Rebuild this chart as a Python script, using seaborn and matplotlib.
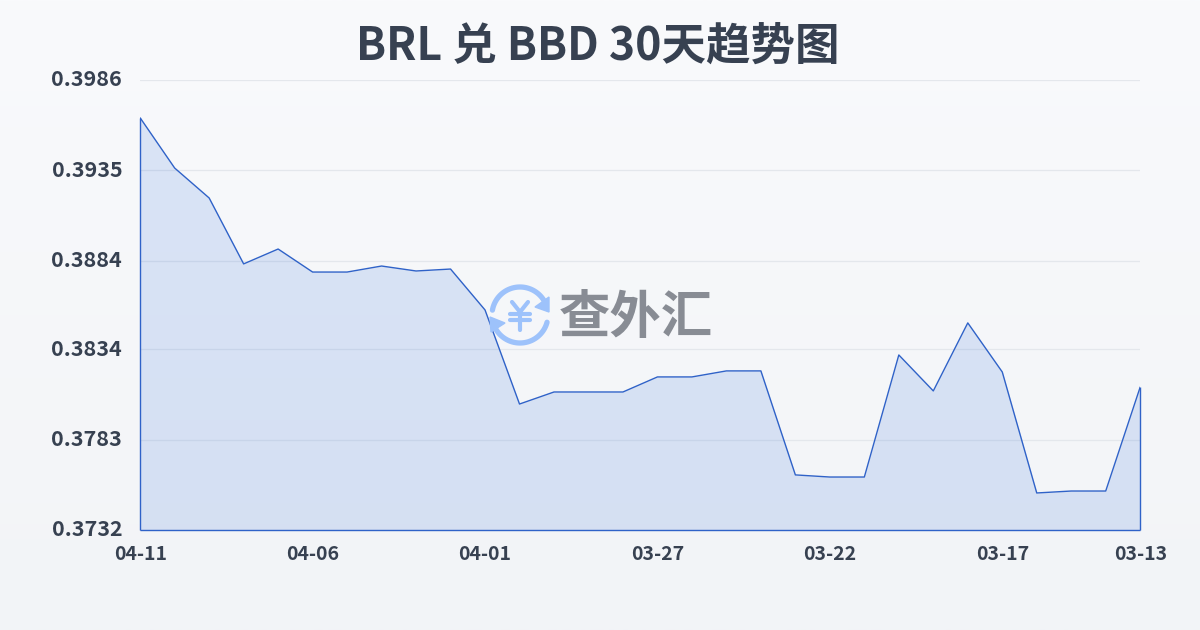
import numpy as np
import pandas as pd
import matplotlib
matplotlib.use("Agg")
import matplotlib.pyplot as plt
from matplotlib.colors import LinearSegmentedColormap
from matplotlib.patches import Polygon
from matplotlib.transforms import ScaledTranslation
import seaborn as sns

TITLE = "BRL 兑 BBD 30天趋势图"
WATERMARK = "查外汇"
rates = [0.39646, 0.39363, 0.39194, 0.38822, 0.38906, 0.38776, 0.38776, 0.38810,
         0.38782, 0.38793, 0.38562, 0.38031, 0.38099, 0.38099, 0.38099, 0.38184,
         0.38184, 0.38218, 0.38218, 0.37631, 0.37619, 0.37619, 0.38308, 0.38105,
         0.38489, 0.38212, 0.37529, 0.37540, 0.37540, 0.38127]
day_index = list(range(len(rates)))
x_tick_pos = [0, 5, 10, 15, 20, 25, 29]
x_tick_labels = ["04-11", "04-06", "04-01", "03-27", "03-22", "03-17", "03-13"]
y_ticks = [0.3732, 0.3783, 0.3834, 0.3884, 0.3935, 0.3986]
y_tick_labels = ["0.3732", "0.3783", "0.3834", "0.3884", "0.3935", "0.3986"]

sns.set_theme(style="white")
plt.rcParams["font.family"] = ["Noto Sans CJK SC", "DejaVu Sans"]

W, H = 1200, 630
INK = "#374151"
LINE = "#2f62c8"
GRID = "#e4e7ec"
LOGO = "#9dc2fb"

fig = plt.figure(figsize=(W / 100, H / 100), dpi=100)

# page background gradient
bg = fig.add_axes([0, 0, 1, 1], zorder=0)
cmap = LinearSegmentedColormap.from_list("page", ["#f9fafc", "#f2f4f7"])
bg.imshow(np.linspace(0, 1, 256)[:, None], aspect="auto", cmap=cmap, extent=(0, 1, 0, 1))
bg.axis("off")

# chart
ax = fig.add_axes([140.2 / W, 1 - 530 / H, 1000 / W, 450 / H], zorder=1)
ax.patch.set_alpha(0)
df = pd.DataFrame({"day": day_index, "rate": rates})
ax.fill_between(df["day"], df["rate"], y_ticks[0], facecolor="#2e6bd9", alpha=0.15, lw=0, zorder=2)
sns.lineplot(data=df, x="day", y="rate", ax=ax, color=LINE, lw=1.0, zorder=3)
ax.vlines([day_index[0], day_index[-1]], y_ticks[0], [rates[0], rates[-1]], color=LINE, lw=1.0,
          zorder=3, clip_on=False)
ax.hlines(y_ticks[0], day_index[0], day_index[-1], color=LINE, lw=1.0, zorder=3, clip_on=False)

ax.set_xlim(day_index[0], day_index[-1])
ax.set_ylim(y_ticks[0], y_ticks[-1])
ax.set_xlabel("")
ax.set_ylabel("")
for s in ax.spines.values():
    s.set_visible(False)
ax.set_yticks(y_ticks)
ax.set_yticklabels(y_tick_labels, fontsize=15.5, fontweight="bold", color=INK)
ax.set_xticks(x_tick_pos)
ax.set_xticklabels(x_tick_labels, fontsize=14, fontweight="bold", color=INK)
ax.grid(axis="y", color=GRID, lw=0.9, zorder=1)
ax.tick_params(axis="y", length=0, pad=13)
ax.tick_params(axis="x", length=7, width=0.8, color="#e6e8ec", pad=4)
shift = ScaledTranslation(0, 2 / 100, fig.dpi_scale_trans)
for t in ax.get_yticklabels():
    t.set_transform(t.get_transform() + shift)

fig.text(598 / W, 1 - 47 / H, TITLE, ha="center", va="center", fontsize=32, fontweight="bold", color=INK)

# watermark overlay in pixel coordinates
ov = fig.add_axes([0, 0, 1, 1], zorder=2)
ov.set_xlim(0, W)
ov.set_ylim(H, 0)
ov.axis("off")
ov.text(636, 318, WATERMARK, ha="center", va="center", fontsize=37, fontweight="bold", color="#888c94")


def arc(start, end, r=28, cx=520, cy=315, lw=3.8):
    a = np.radians(np.linspace(start, end, 60))
    ov.plot(cx + r * np.cos(a), cy + r * np.sin(a), color=LOGO, lw=lw, solid_capstyle="round")


arc(-170, -30)
arc(15, 165)
ov.add_patch(Polygon([(549, 297), (549, 312), (535, 307)], closed=True, fc=LOGO, ec=LOGO, lw=1))
ov.add_patch(Polygon([(490, 317), (491, 332), (505, 323)], closed=True, fc=LOGO, ec=LOGO, lw=1))
for xs, ys in [((512, 520, 528), (302, 312, 302)), ((510, 530), (314, 314)),
               ((510, 530), (320, 320)), ((520, 520), (312, 330))]:
    ov.plot(xs, ys, color=LOGO, lw=3, solid_capstyle="round", solid_joinstyle="round")

fig.savefig("out.png", dpi=100)
